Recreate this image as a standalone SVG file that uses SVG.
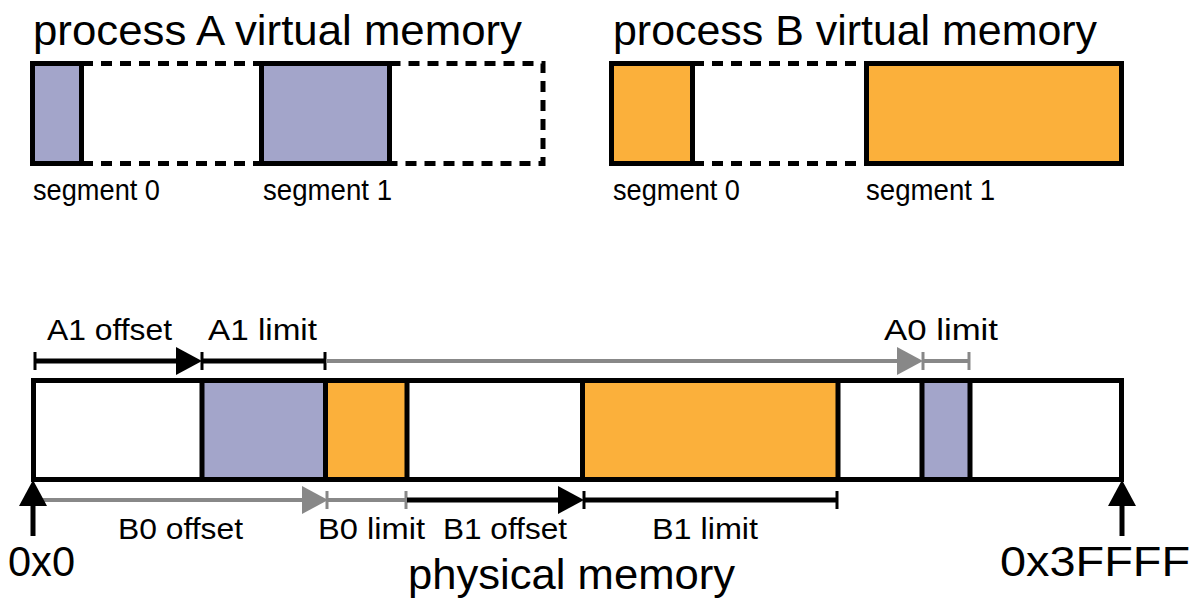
<svg xmlns="http://www.w3.org/2000/svg" width="1195" height="601" viewBox="0 0 1195 601">
<defs>
<style>
text{font-family:"Liberation Sans",Arial,sans-serif;fill:#000;}
.title{font-size:42px;}
.seg{font-size:29px;}
.lbl{font-size:30px;}
.addr{font-size:42px;}
.box{stroke:#000;stroke-width:5;}
.lav{fill:#A3A5CA;}
.org{fill:#FBB03B;}
.dash{fill:none;stroke:#000;stroke-width:5;stroke-dasharray:11 8;}
.blk{stroke:#000;stroke-width:5;fill:none;}
.gry{stroke:#888;stroke-width:4;fill:none;}
.tickb{stroke:#000;stroke-width:3;}
.tickg{stroke:#888;stroke-width:3;}
</style>
<marker id="ahB" markerUnits="userSpaceOnUse" markerWidth="26" markerHeight="28" refX="0" refY="14" orient="auto"><path d="M0,0 L26,14 L0,28 z" fill="#000"/></marker>
<marker id="ahG" markerUnits="userSpaceOnUse" markerWidth="26" markerHeight="28" refX="0" refY="14" orient="auto"><path d="M0,0 L26,14 L0,28 z" fill="#888"/></marker>
</defs>
<rect width="1195" height="601" fill="#fff"/>

<g id="processA">
<text class="title" x="33" y="45" textLength="489" lengthAdjust="spacingAndGlyphs">process A virtual memory</text>
<path class="dash" d="M82,63.5 H261.5 M82,163.5 H261.5 M389.5,63.5 H543 V163.5 H389.5"/>
<g id="A-seg0"><rect class="box lav" x="32.5" y="63.5" width="49" height="100"/><text class="seg" x="33" y="200" textLength="127" lengthAdjust="spacingAndGlyphs">segment 0</text></g>
<g id="A-seg1"><rect class="box lav" x="261.5" y="63.5" width="128" height="100"/><text class="seg" x="263" y="200" textLength="129" lengthAdjust="spacingAndGlyphs">segment 1</text></g>
</g>

<g id="processB">
<text class="title" x="613" y="45" textLength="484" lengthAdjust="spacingAndGlyphs">process B virtual memory</text>
<path class="dash" d="M693,63.5 H866 M693,163.5 H866"/>
<g id="B-seg0"><rect class="box org" x="611.5" y="63.5" width="81" height="100"/><text class="seg" x="613" y="200" textLength="127" lengthAdjust="spacingAndGlyphs">segment 0</text></g>
<g id="B-seg1"><rect class="box org" x="866.5" y="63.5" width="255" height="100"/><text class="seg" x="866" y="200" textLength="129" lengthAdjust="spacingAndGlyphs">segment 1</text></g>
</g>

<g id="physical">
<rect x="33.5" y="380.5" width="1088" height="99" fill="#fff"/>
<rect class="lav" x="202" y="380.5" width="123.5" height="99"/>
<rect class="org" x="325.5" y="380.5" width="81.5" height="99"/>
<rect class="org" x="582.5" y="380.5" width="255.5" height="99"/>
<rect class="lav" x="922" y="380.5" width="48" height="99"/>
<path class="blk" d="M202,380.5 V479.5 M325.5,380.5 V479.5 M407,380.5 V479.5 M582.5,380.5 V479.5 M838,380.5 V479.5 M922,380.5 V479.5 M970,380.5 V479.5"/>
<rect x="33.5" y="380.5" width="1088" height="99" fill="none" stroke="#000" stroke-width="5"/>
<text class="title" x="408" y="589" textLength="327" lengthAdjust="spacingAndGlyphs">physical memory</text>
<text class="addr" x="8" y="576" textLength="67" lengthAdjust="spacingAndGlyphs">0x0</text>
<text class="addr" x="1000" y="576" textLength="190" lengthAdjust="spacingAndGlyphs">0x3FFFF</text>
</g>

<g id="connectors">
<line class="tickb" x1="35" y1="352" x2="35" y2="370"/>
<line class="blk" x1="35" y1="361" x2="176" y2="361" marker-end="url(#ahB)"/>
<line class="blk" x1="202" y1="361" x2="325" y2="361"/>
<line class="tickb" x1="202" y1="352" x2="202" y2="370"/>
<line class="tickb" x1="325" y1="352" x2="325" y2="370"/>
<line class="gry" x1="326" y1="361" x2="897" y2="361" marker-end="url(#ahG)"/>
<line class="gry" x1="922" y1="361" x2="970" y2="361"/>
<line class="tickg" x1="923" y1="352" x2="923" y2="370"/>
<line class="tickg" x1="969" y1="352" x2="969" y2="370"/>
<text class="lbl" x="47" y="340" textLength="125" lengthAdjust="spacingAndGlyphs">A1 offset</text>
<text class="lbl" x="208" y="340" textLength="109" lengthAdjust="spacingAndGlyphs">A1 limit</text>
<text class="lbl" x="884" y="340" textLength="114" lengthAdjust="spacingAndGlyphs">A0 limit</text>
<line class="gry" x1="36" y1="500" x2="302" y2="500" marker-end="url(#ahG)"/>
<line class="gry" x1="327" y1="500" x2="407" y2="500"/>
<line class="tickg" x1="327" y1="491" x2="327" y2="509"/>
<line class="tickg" x1="406" y1="491" x2="406" y2="509"/>
<line class="blk" x1="407" y1="500" x2="558" y2="500" marker-end="url(#ahB)"/>
<line class="blk" x1="583" y1="500" x2="838" y2="500"/>
<line class="tickb" x1="584" y1="491" x2="584" y2="509"/>
<line class="tickb" x1="837" y1="491" x2="837" y2="509"/>
<line class="blk" x1="33" y1="536" x2="33" y2="506" marker-end="url(#ahB)"/>
<line class="blk" x1="1122" y1="536" x2="1122" y2="506" marker-end="url(#ahB)"/>
<text class="lbl" x="118" y="539" textLength="125" lengthAdjust="spacingAndGlyphs">B0 offset</text>
<text class="lbl" x="318" y="539" textLength="107" lengthAdjust="spacingAndGlyphs">B0 limit</text>
<text class="lbl" x="443" y="539" textLength="124" lengthAdjust="spacingAndGlyphs">B1 offset</text>
<text class="lbl" x="652" y="539" textLength="106" lengthAdjust="spacingAndGlyphs">B1 limit</text>
</g>
</svg>
